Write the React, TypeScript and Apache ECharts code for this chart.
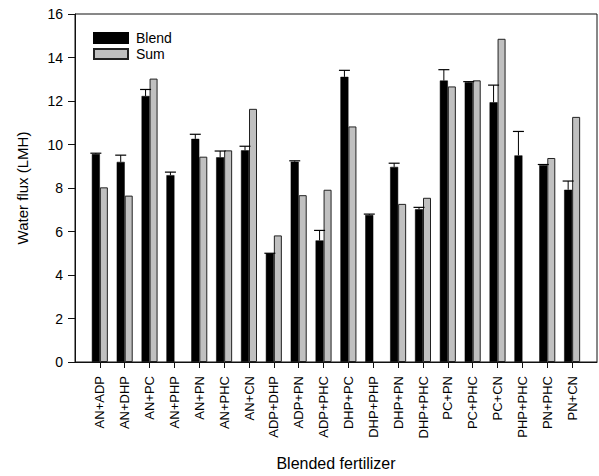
import React, { useEffect, useRef } from "react";
import * as echarts from "echarts";

const categories = [
  "AN+ADP", "AN+DHP", "AN+PC", "AN+PHP", "AN+PN", "AN+PHC", "AN+CN",
  "ADP+DHP", "ADP+PN", "ADP+PHC", "DHP+PC", "DHP+PHP", "DHP+PN", "DHP+PHC",
  "PC+PN", "PC+PHC", "PC+CN", "PHP+PHC", "PN+PHC", "PN+CN",
];
const blendValues = [
  9.56, 9.2, 12.23, 8.59, 10.26, 9.41, 9.73,
  5.0, 9.21, 5.59, 13.11, 6.76, 8.97, 7.02,
  12.94, 12.86, 11.94, 9.5, 9.05, 7.92,
];
const blendErrors = [
  0.04, 0.31, 0.3, 0.14, 0.21, 0.29, 0.19,
  0.0, 0.04, 0.46, 0.3, 0.04, 0.17, 0.09,
  0.5, 0.03, 0.79, 1.1, 0.03, 0.4,
];
const sumValues: (number | null)[] = [
  8.03, 7.65, 13.03, null, 9.44, 9.73, 11.64,
  5.82, 7.67, 7.92, 10.83, null, 7.27, 7.55,
  12.67, 12.95, 14.86, null, 9.38, 11.27,
];
const yTicks = { min: 0, max: 16, interval: 2 };

const FONT = "'Liberation Sans', Arial, sans-serif";
const BAR_W = 8;

export default function App() {
  const ref = useRef<HTMLDivElement>(null);
  useEffect(() => {
    document.body.style.margin = "0";
    if (!ref.current) return;
    const chart = echarts.init(ref.current, null, { renderer: "svg" });
    const positions = categories.map((_, i) => i + 1);
    const option: any = {
      animation: false,
      backgroundColor: "#fff",
      textStyle: { fontFamily: FONT, color: "#000" },
      grid: {
        left: 75,
        right: 2,
        top: 14,
        bottom: 110,
        show: true,
        borderColor: "#111",
        borderWidth: 1,
      },
      legend: {
        left: 93,
        top: 31,
        padding: 0,
        orient: "vertical",
        itemWidth: 34,
        itemHeight: 10,
        itemGap: 2,
        icon: "rect",
        textStyle: { fontSize: 14, color: "#000", fontFamily: FONT, padding: [0, 0, 0, 3] },
        data: ["Blend", "Sum"],
      },
      xAxis: {
        type: "value",
        min: 0,
        max: categories.length + 1,
        interval: 1,
        name: "Blended fertilizer",
        nameLocation: "middle",
        nameGap: 93,
        nameTextStyle: { fontSize: 16, color: "#000", fontFamily: FONT },
        axisLine: { show: true, lineStyle: { color: "#111", width: 1 } },
        axisTick: {
          show: true,
          length: 6,
          lineStyle: { color: "#111" },
          customValues: positions,
        },
        axisLabel: {
          rotate: 90,
          margin: 14,
          fontSize: 13,
          color: "#000",
          fontFamily: FONT,
          customValues: positions,
          formatter: (v: number) => categories[Math.round(v) - 1] ?? "",
        },
        splitLine: { show: false },
      },
      yAxis: {
        type: "value",
        min: yTicks.min,
        max: yTicks.max,
        interval: yTicks.interval,
        name: "Water flux (LMH)",
        nameLocation: "middle",
        nameGap: 45,
        nameTextStyle: { fontSize: 15, color: "#000", fontFamily: FONT },
        axisLine: { show: true, lineStyle: { color: "#111", width: 1 } },
        axisTick: { show: true, length: 7, lineStyle: { color: "#111" } },
        axisLabel: { margin: 12, fontSize: 14, color: "#000", fontFamily: FONT },
        splitLine: { show: false },
      },
      series: [
        {
          name: "Blend",
          type: "bar",
          barWidth: BAR_W,
          barGap: "0%",
          itemStyle: { color: "#000", borderColor: "#000", borderWidth: 0.5 },
          data: blendValues.map((v, i) => [i + 1, v]),
          z: 2,
        },
        {
          name: "Sum",
          type: "bar",
          barWidth: BAR_W,
          barGap: "0%",
          itemStyle: { color: "#c0c0c0", borderColor: "#222", borderWidth: 1 },
          data: sumValues.map((v, i) => [i + 1, v]),
          z: 2,
        },
        {
          name: "BlendError",
          type: "custom",
          z: 3,
          data: blendValues.map((v, i) => [i + 1, v, blendErrors[i]]),
          encode: { x: 0, y: 1 },
          renderItem: (params: any, api: any) => {
            const x = api.value(0);
            const y = api.value(1);
            const e = api.value(2);
            const base = api.coord([x, y]);
            const top = api.coord([x, y + e]);
            const cx = base[0] - BAR_W / 2;
            const half = 5.5;
            return {
              type: "group",
              children: [
                {
                  type: "line",
                  shape: { x1: cx, y1: base[1], x2: cx, y2: top[1] },
                  style: { stroke: "#000", lineWidth: 1 },
                },
                {
                  type: "line",
                  shape: { x1: cx - half, y1: top[1], x2: cx + half, y2: top[1] },
                  style: { stroke: "#000", lineWidth: 1.2 },
                },
              ],
            };
          },
        },
      ],
    };
    chart.setOption(option);
    return () => chart.dispose();
  }, []);
  return <div ref={ref} style={{ width: 599, height: 476 }} />;
}
